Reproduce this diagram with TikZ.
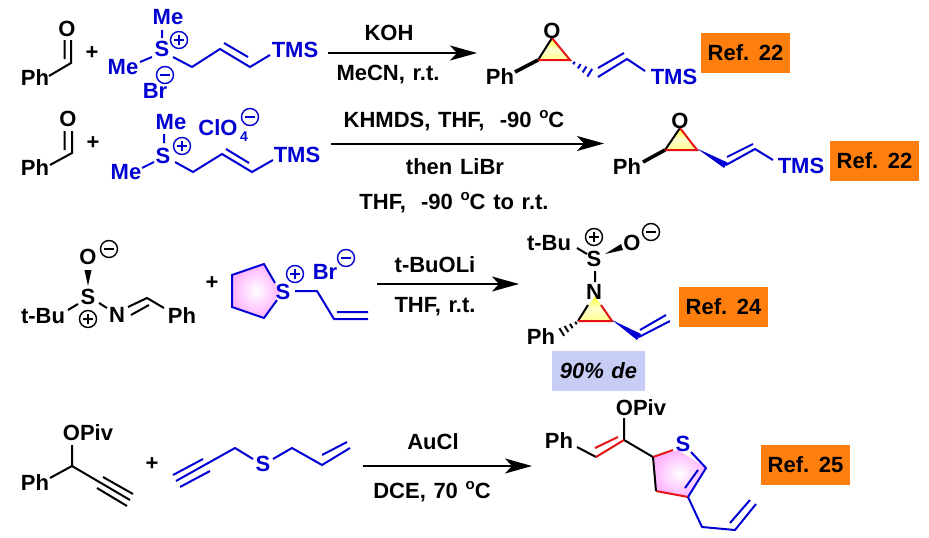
\documentclass[tikz,border=0pt]{standalone}
\usepackage{fontspec}
\setmainfont[WordSpace=1.25]{Liberation Sans}
\usetikzlibrary{arrows.meta,calc}
\definecolor{chemblue}{RGB}{0,0,210}
\definecolor{chemred}{RGB}{228,20,20}
\definecolor{reforange}{RGB}{255,127,14}
\definecolor{debox}{RGB}{200,205,245}
\tikzset{
  x=1pt,y=-1pt,
  lbl/.style={font=\fontsize{22}{22}\selectfont\bfseries,inner sep=0pt,text=black},
  blbl/.style={lbl,text=chemblue},
  cond/.style={font=\fontsize{22}{22}\selectfont\bfseries,inner sep=0pt,text=black},
  refbox/.style={fill=reforange,minimum width=89pt,minimum height=40pt,inner sep=0pt,font=\fontsize{22}{22}\selectfont\bfseries,text=black},
  bk/.style={draw=black,line width=2pt},
  bl/.style={draw=chemblue,line width=2pt},
  rd/.style={draw=chemred,line width=2pt},
  charge/.style={circle,draw,line width=1.4pt,minimum size=17pt,inner sep=0pt},
  rxn/.style={draw=black,line width=2pt,-{Stealth[length=27pt,width=15pt,inset=7pt]}},
  triyellow/.style={top color=yellow!80!white,bottom color=yellow!45!white,middle color=yellow!18!white},
  ringpink/.style={inner color=white,outer color=magenta!30!white},
}
\newcommand{\degsign}{\raisebox{0.42em}{\fontsize{15}{15}\selectfont o}}
\newcommand{\plusq}[3]{\node[charge,draw=#1,text=#1] (#2) at (#3) {};
  \draw[draw=#1,line width=1.4pt] ([xshift=-5pt]#2.center) -- ([xshift=5pt]#2.center) ([yshift=-5pt]#2.center) -- ([yshift=5pt]#2.center);}
\newcommand{\minusq}[3]{\node[charge,draw=#1,text=#1] (#2) at (#3) {};
  \draw[draw=#1,line width=1.4pt] ([xshift=-5pt]#2.center) -- ([xshift=5pt]#2.center);}
% hashed bond: colour, narrow end, wide end
\newcommand{\hashbond}[3]{\foreach \t/\w in {0/1.5,0.25/2.5,0.5/3.5,0.75/4.5,1/5.5}{
  \draw[#1,line width=2pt] ($(#2)!\t!(#3)!\w pt!90:(#3)$) -- ($(#2)!\t!(#3)!\w pt!-90:(#3)$);}}
\begin{document}
\begin{tikzpicture}
\useasboundingbox (0,0) rectangle (929,538);
\fill[white] (0,0) rectangle (929,538);

% ---------- row 1
\node[lbl] (ph1) at (35,78) {Ph};
\node[lbl] (o1) at (67,29) {O};
\draw[bk] (49,76) -- (71,63) -- (71,40) (64.5,59) -- (64.5,40);
\node[lbl] (plus1) at (92,53) {+};
\node[blbl] (me1a) at (168,17) {Me};
\node[blbl] (s1) at (162,49) {S};
\node[blbl] (me1b) at (123,67) {Me};
\node[blbl] (br1) at (155,91) {Br};
\plusq{chemblue}{p1}{179,40}
\minusq{chemblue}{m1}{165,75}
\draw[bl] (162,30) -- (162,38) (140,62) -- (152,57);
\draw[bl] (173,57) -- (192,67) -- (220,49) -- (250,67) -- (270,55) (224,43) -- (248,57);
\node[blbl] (tms1) at (295,50) {TMS};
\coordinate (a1s) at (328,53); \coordinate (a1e) at (477,53);
\draw[rxn] (a1s) -- (a1e);
\node[cond] (c1a) at (389,33) {KOH};
\node[cond] (c1b) at (388,74.5) {MeCN, r.t.};
% product 1
\shade[triyellow] (552,38) -- (538,60) -- (570,60) -- cycle;
\draw[bk] (552,38) -- (538,60);
\draw[rd] (552,38) -- (570,60) -- (538,60);
\node[lbl] (o2) at (552,31) {O};
\node[lbl] (ph2) at (500,77) {Ph};
\draw[line width=3.6pt,black] (538,60) -- (515,72);
\coordinate (h1a) at (574,63); \coordinate (h1b) at (595,76);
\hashbond{chemblue}{h1a}{h1b}
\draw[bl] (598,77) -- (627,59) -- (645,71) (598,68) -- (624,53);
\node[blbl] (tms2) at (674,77) {TMS};
\node[refbox] (r1) at (745.5,53) {Ref. 22};

% ---------- row 2
\node[lbl] (ph3) at (35,168) {Ph};
\node[lbl] (o3) at (68,119) {O};
\draw[bk] (50,165) -- (72,153) -- (72,131) (64.5,150) -- (64.5,131);
\node[lbl] (plus2) at (93,143) {+};
\node[blbl] (me2a) at (171,122) {Me};
\node[blbl] (s2) at (163,156) {S};
\node[blbl] (me2b) at (126,172) {Me};
\plusq{chemblue}{p2}{182,146}
\draw[bl] (164,134) -- (164,143) (142,168) -- (154,162);
\draw[bl] (175,162) -- (193,172) -- (222,154) -- (252,172) -- (273,160) (226,149) -- (249,163);
\node[blbl] (tms3) at (297,155) {TMS};
\node[blbl] (clo) at (218,128) {ClO};
\node[blbl,font=\fontsize{14}{14}\selectfont\bfseries] (four) at (244,137) {4};
\minusq{chemblue}{m2}{250,117}
\coordinate (a2s) at (331,143.5); \coordinate (a2e) at (604,143.5);
\draw[rxn] (a2s) -- (a2e);
\node[cond] (c2a) at (454,121) {KHMDS, THF, \ -90 \degsign C};
\node[cond] (c2b) at (455,167) {then LiBr};
\node[cond] (c2c) at (454,203) {THF, \ -90 \degsign C to r.t.};
% product 2
\shade[triyellow] (680,128) -- (665,150) -- (697,150) -- cycle;
\draw[bk] (680,128) -- (665,150);
\draw[rd] (680,128) -- (697,150) -- (665,150);
\node[lbl] (o4) at (680,121) {O};
\node[lbl] (ph4) at (627,167) {Ph};
\draw[line width=3.6pt,black] (665,150) -- (643,162);
\fill[chemblue] (697,148.5) -- (727.5,162.5) -- (724,168) -- cycle;
\draw[bl] (726,165) -- (755,149) -- (773,160) (727,157) -- (753,144);
\node[blbl] (tms4) at (801,166) {TMS};
\node[refbox] (r2) at (874.5,161) {Ref. 22};

% ---------- row 3
\node[lbl] (o5) at (88,257) {O};
\minusq{black}{m3}{109,249}
\fill[black] (88,286) -- (84.5,270) -- (91.5,270) -- cycle;
\node[lbl] (s5) at (88,297) {S};
\node[lbl] (tbu1) at (43,316) {t-Bu};
\plusq{black}{p3}{88,319}
\node[lbl] (n1) at (117,315) {N};
\node[lbl] (ph5) at (182,316) {Ph};
\draw[bk] (68,310) -- (78,304) (99,303) -- (107,308);
\draw[bk] (128,307) -- (147,298) -- (164,308) (131,315) -- (149,305);
\node[lbl] (plus3) at (212,283) {+};
\shade[ringpink] (232,275) -- (264,264) -- (280,292) -- (264,318) -- (232,307) -- cycle;
\draw[bl] (275,283) -- (264,264) -- (232,275) -- (232,307) -- (264,318) -- (277,300);
\node[blbl] (s6) at (283,292) {S};
\plusq{chemblue}{p4}{295,274}
\node[blbl] (br2) at (325,272) {Br};
\minusq{chemblue}{m4}{346,258}
\draw[bl] (295,291) -- (317,291) -- (334,319) -- (368,319) (337,312) -- (368,312);
\coordinate (a3s) at (377,284); \coordinate (a3e) at (519,284);
\draw[rxn] (a3s) -- (a3e);
\node[cond] (c3a) at (435,265) {t-BuOLi};
\node[cond] (c3b) at (435,306.5) {THF, r.t.};
% product 3
\node[lbl] (tbu2) at (549,243) {t-Bu};
\plusq{black}{p5}{594,237}
\node[lbl] (s7) at (594,259) {S};
\node[lbl] (o7) at (632,243) {O};
\minusq{black}{m5}{651,232}
\draw[bk] (577,248) -- (587,254) (595,271) -- (595,282);
\fill[black] (605,254) -- (621,244) -- (623,250) -- cycle;
\shade[triyellow] (595,296) -- (578,321) -- (612,321) -- cycle;
\node[lbl] (n2) at (594,292) {N};
\draw[bk] (588,305) -- (578,321);
\draw[rd] (601,305) -- (612,321) -- (578,321);
\coordinate (h3a) at (576,323); \coordinate (h3b) at (557,335);
\hashbond{black}{h3a}{h3b}
\node[lbl] (ph7) at (541,337) {Ph};
\fill[chemblue] (612,320) -- (641,334) -- (637,340) -- cycle;
\draw[bl] (639,337) -- (670,321) (640,330) -- (666,315);
\node[refbox] (r3) at (723.5,307) {Ref. 24};
\node[fill=debox,minimum width=93pt,minimum height=40pt,inner sep=0pt,font=\fontsize{22}{22}\selectfont\bfseries\itshape] (de) at (598.5,371) {90\% de};

% ---------- row 4
\node[lbl] (opiv1) at (88,433) {OPiv};
\node[lbl] (ph8) at (35,483) {Ph};
\draw[bk] (72,445) -- (72,466) -- (50,478) (72,466) -- (130,500) (103,477) -- (133,494) (97,488) -- (127,506);
\node[lbl] (plus4) at (152,464) {+};
\draw[bl] (176,481) -- (235,448) -- (253,459) (173,475) -- (203,459) (180,487) -- (210,471);
\node[blbl] (s8) at (263,464) {S};
\draw[bl] (273,459) -- (292,448) -- (322,465) -- (350,448) (322,455) -- (347,442);
\coordinate (a4s) at (363,466); \coordinate (a4e) at (532,466);
\draw[rxn] (a4s) -- (a4e);
\node[cond] (c4a) at (433,442) {AuCl};
\node[cond] (c4b) at (432,492) {DCE, 70 \degsign C};
% product 4
\shade[ringpink] (653,457) -- (678,450) -- (706,468) -- (688,497) -- (656,491) -- cycle;
\node[lbl] (opiv2) at (641,408) {OPiv};
\node[lbl] (ph9) at (559,441) {Ph};
\draw[bk] (624,418) -- (624,440) (577,447) -- (596,457) (624,440) -- (653,457);
\draw[rd] (596,457) -- (624,440) (595,448) -- (618,437);
\draw[rd] (653,457) -- (673,450);
\node[blbl] (s9) at (683,444) {S};
\draw[bl] (691,452) -- (706,468) -- (688,497) (698,470) -- (685,488);
\draw[rd] (688,497) -- (656,491);
\draw[bk] (656,491) -- (653,457);
\draw[bl] (688,497) -- (702,527) -- (735,530) -- (756,504) (730,523) -- (750,500);
\node[refbox] (r4) at (805.5,464.5) {Ref. 25};
\end{tikzpicture}
\end{document}
